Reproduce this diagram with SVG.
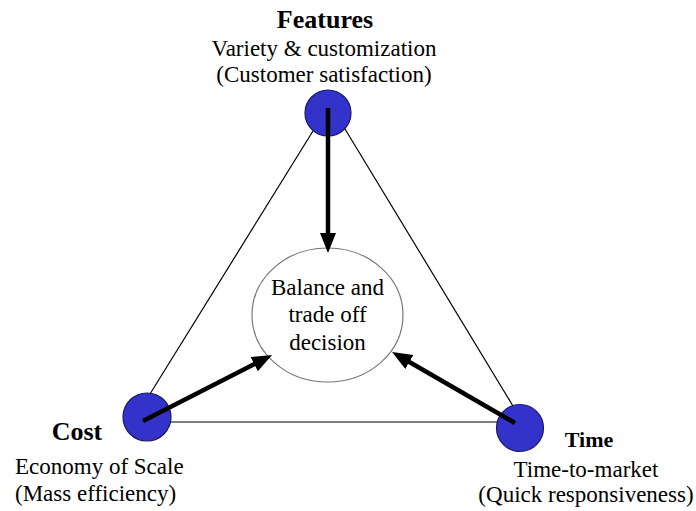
<svg xmlns="http://www.w3.org/2000/svg" width="696" height="511" viewBox="0 0 696 511">
  <style>
    .edge { stroke: #000; stroke-width: 1.2; fill: none; }
    .arrow { stroke: #000; stroke-width: 4.5; fill: none; marker-end: url(#head); }
    .vertex { fill: #3333cc; stroke: #1a1a5e; stroke-width: 1.2; }
    .hub { fill: #fff; stroke: #777; stroke-width: 1.2; }
    .title { font-family: "Liberation Serif", "Times New Roman", serif; font-weight: bold; fill: #000; }
    .label { font-family: "Liberation Serif", "Times New Roman", serif; font-size: 23px; fill: #000; }
  </style>
  <defs>
    <marker id="head" markerUnits="userSpaceOnUse" markerWidth="22" markerHeight="18" refX="4" refY="8" orient="auto">
      <path d="M0,0 L20,8 L0,16 z" fill="#000"/>
    </marker>
  </defs>
  <rect width="696" height="511" fill="#fff"/>

  <g id="hub">
    <ellipse class="hub" cx="327.5" cy="315" rx="75.5" ry="67"/>
    <text class="label" x="327.5" y="295" text-anchor="middle">Balance and</text>
    <text class="label" x="327.5" y="322" text-anchor="middle">trade off</text>
    <text class="label" x="327.5" y="350" text-anchor="middle">decision</text>
  </g>

  <g id="features">
    <circle class="vertex" cx="328" cy="113" r="23"/>
    <text class="title" x="325" y="28" font-size="26" text-anchor="middle">Features</text>
    <text class="label" x="324" y="56" text-anchor="middle">Variety &amp; customization</text>
    <text class="label" x="324" y="82" text-anchor="middle">(Customer satisfaction)</text>
  </g>

  <g id="cost">
    <circle class="vertex" cx="147" cy="417" r="24"/>
    <text class="title" x="77" y="440" font-size="26" text-anchor="middle">Cost</text>
    <text class="label" x="15" y="474">Economy of Scale</text>
    <text class="label" x="15" y="501">(Mass efficiency)</text>
  </g>

  <g id="time">
    <circle class="vertex" cx="520" cy="428" r="23.5"/>
    <text class="title" x="589" y="447" font-size="22" text-anchor="middle">Time</text>
    <text class="label" x="586" y="477" text-anchor="middle">Time-to-market</text>
    <text class="label" x="586" y="502" text-anchor="middle">(Quick responsiveness)</text>
  </g>

  <!-- triangle sides (edge to edge) and arrows from each vertex centre toward the hub -->
  <g id="connectors">
    <line class="edge" x1="313" y1="131" x2="150" y2="394"/>
    <line class="edge" x1="345" y1="129" x2="513" y2="406"/>
    <line class="edge" x1="171" y1="422" x2="497" y2="422"/>
    <line class="arrow" x1="328" y1="108" x2="328" y2="237"/>
    <line class="arrow" x1="143" y1="421" x2="257.8" y2="362.3"/>
    <line class="arrow" x1="515" y1="423" x2="405.9" y2="360"/>
  </g>
</svg>
